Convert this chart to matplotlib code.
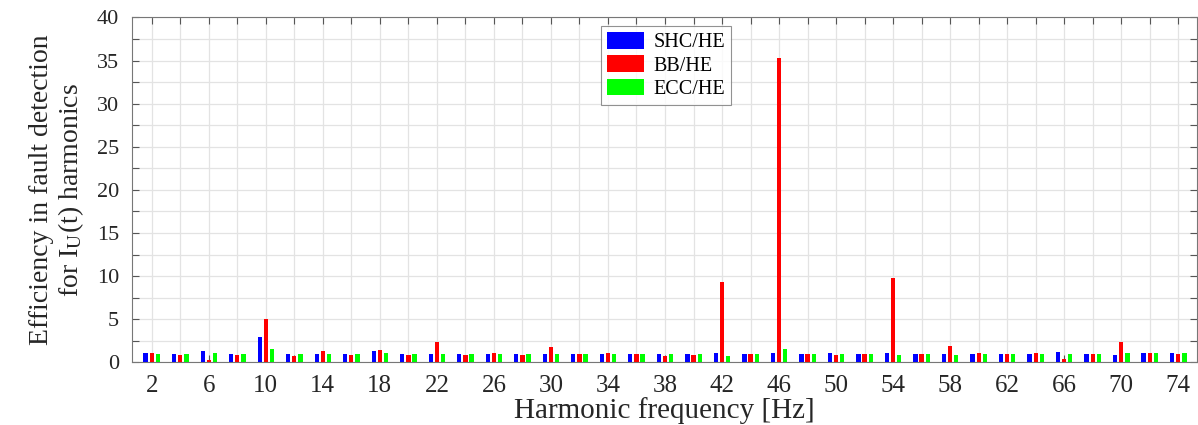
import numpy as np
import matplotlib.pyplot as plt
from matplotlib.ticker import MultipleLocator

harmonics = list(range(2, 76, 2))

shc_he = [1.09, 0.97, 1.28, 0.97, 2.98, 1.0, 1.0, 1.0, 1.28, 1.0,
          1.0, 1.0, 1.0, 1.0, 0.97, 1.0, 1.0, 1.0, 1.0, 1.0,
          1.05, 1.0, 1.05, 1.0, 1.05, 1.0, 1.12, 1.0, 0.93, 1.0,
          1.0, 1.0, 1.16, 1.0, 0.89, 1.04, 1.08]
bb_he = [1.12, 0.85, 0.27, 0.81, 5.08, 0.78, 1.28, 0.89, 1.4, 0.89,
         2.33, 0.89, 1.12, 0.81, 1.82, 0.97, 1.12, 0.97, 0.70, 0.89,
         9.3, 0.97, 35.25, 0.97, 0.85, 0.97, 9.8, 1.0, 1.86, 1.05,
         0.93, 1.05, 0.35, 1.0, 2.32, 1.04, 0.93]
ecc_he = [0.97, 0.97, 1.05, 0.97, 1.55, 0.97, 1.0, 1.0, 1.12, 1.0,
          0.97, 0.97, 0.97, 1.0, 1.0, 1.0, 0.97, 1.0, 1.0, 1.0,
          0.70, 1.0, 1.59, 1.0, 1.0, 1.0, 0.89, 1.0, 0.85, 1.0,
          1.0, 1.0, 1.0, 1.0, 1.04, 1.04, 1.08]

plt.rcParams['font.family'] = ['Liberation Serif', 'DejaVu Serif']
plt.rcParams['mathtext.fontset'] = 'stix'

fig = plt.figure(figsize=(11.98, 4.25), dpi=100)
ax = fig.add_axes([0.11, 0.1475, 0.889, 0.8115])

x = np.array(harmonics)
w = 0.3
off = 0.43
ax.bar(x - off, shc_he, w, color=(0, 0, 1), label='SHC/HE', zorder=3)
ax.bar(x, bb_he, w, color=(1, 0, 0), label='BB/HE', zorder=3)
ax.bar(x + off, ecc_he, w, color=(0, 1, 0), label='ECC/HE', zorder=3)

ax.set_xlim(0.6, 75.3)
ax.set_ylim(0, 40)
ax.set_xticks(list(range(2, 76, 4)))
ax.set_xticks(list(range(4, 76, 4)), minor=True)
ax.yaxis.set_major_locator(MultipleLocator(5))
ax.yaxis.set_minor_locator(MultipleLocator(2.5))
ax.grid(True, which='both', color='#e3e3e3', linewidth=0.9, zorder=0)
ax.set_axisbelow(True)

ax.tick_params(which='both', direction='in', top=True, right=True,
               length=5, width=0.8, color='#555555', labelcolor='#262626')
ax.tick_params(axis='x', labelsize=18, pad=9)
ax.tick_params(axis='y', labelsize=16, pad=9)
for s in ax.spines.values():
    s.set_color('#777777')
    s.set_linewidth(0.8)

ax.set_xlabel('Harmonic frequency [Hz]', fontsize=21, color='#262626', labelpad=0)
ax.set_ylabel('Efficiency in fault detection\nfor I$_{\\mathrm{U}}$(t) harmonics',
              fontsize=20, color='#262626', labelpad=8, linespacing=1.1)

leg = ax.legend(loc='upper center', bbox_to_anchor=(0.502, 0.975), fontsize=14.5,
                frameon=True, fancybox=False, edgecolor='#777777',
                handlelength=1.8, handleheight=0.9, borderpad=0.3,
                labelspacing=0.15, handletextpad=0.5, borderaxespad=0)
leg.get_frame().set_linewidth(0.8)

fig.savefig('out.png', dpi=100)
